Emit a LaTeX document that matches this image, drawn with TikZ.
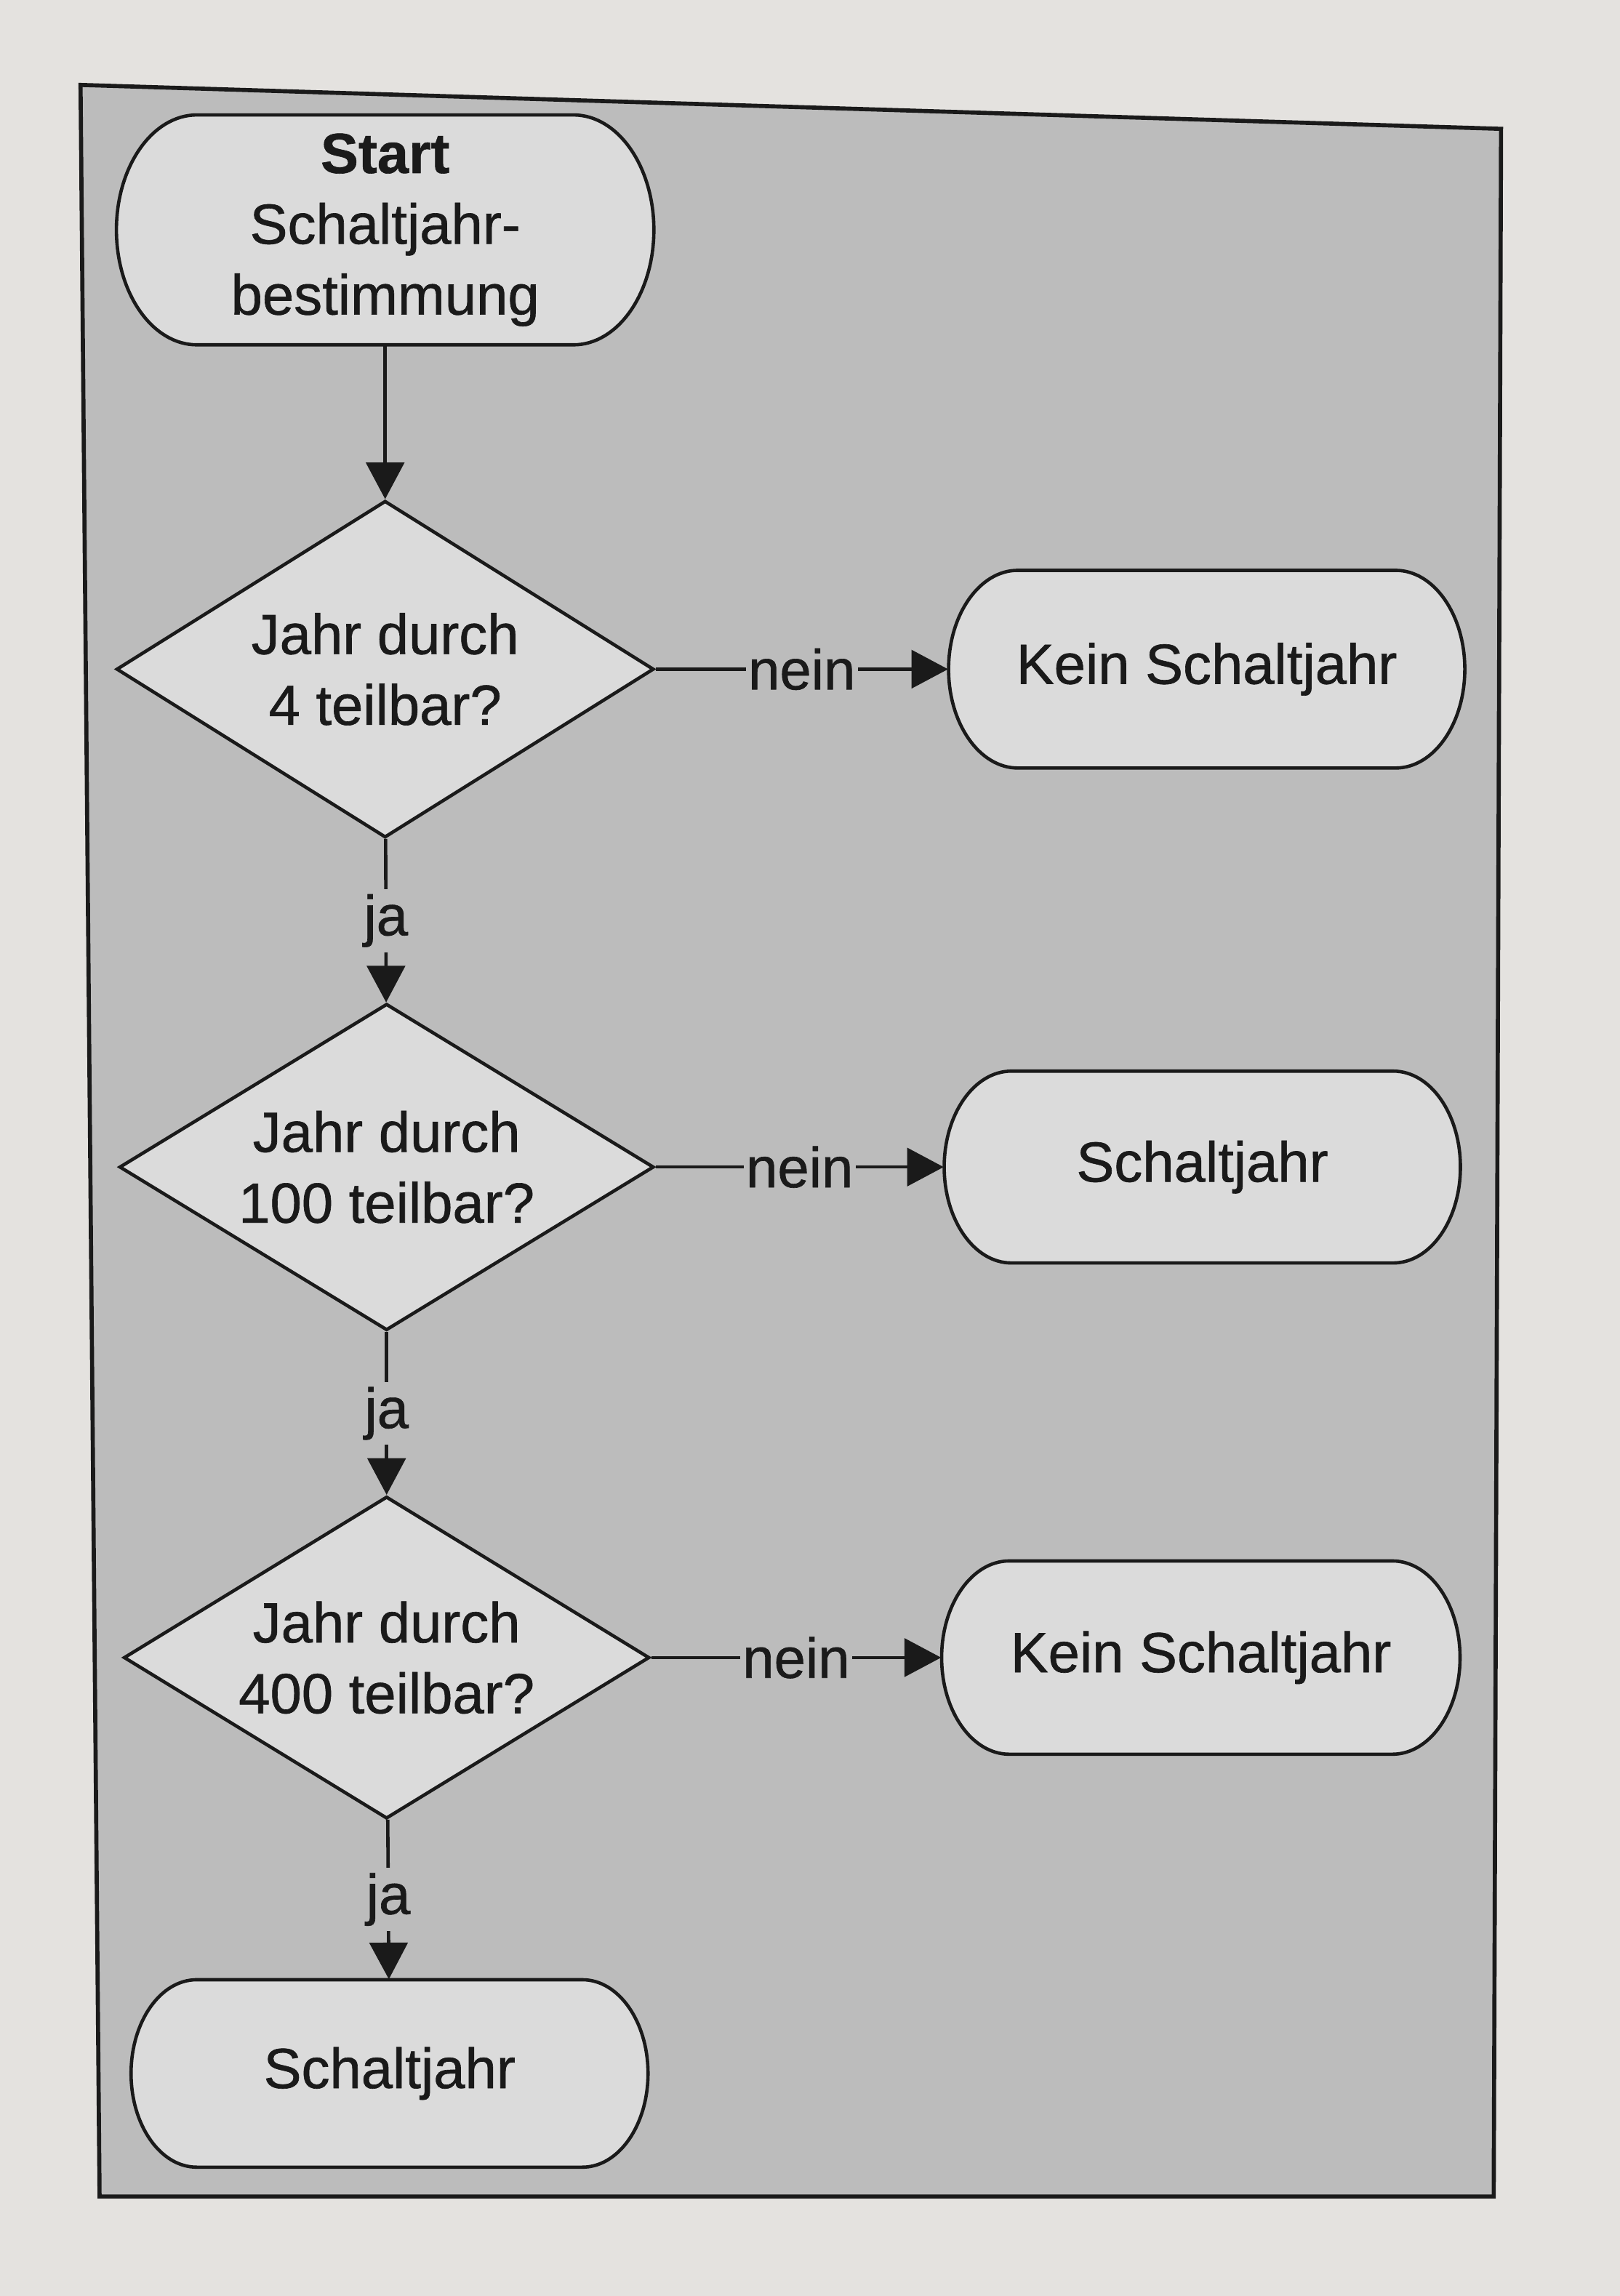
\documentclass[tikz,border=0pt]{standalone}
\usepackage{fontspec}
\setmainfont{Liberation Sans}[RawFeature={embolden=0.8}]
\usepackage{xcolor}
\usepackage{tikz}
\usetikzlibrary{positioning,arrows.meta,shapes.geometric}
\definecolor{PageTone}{HTML}{E4E2DF}
\definecolor{PanelGray}{HTML}{BCBCBC}
\definecolor{BoxGray}{HTML}{DBDBDB}
\definecolor{InkDark}{HTML}{1A1A1A}
% pill: name, x, y, width, height, text
\newcommand{\pillbox}[6]{%
  \path[draw=InkDark, fill=BoxGray, line width=1.3pt]
    ({#2-#4/2+0.35*#5},{#3+#5/2}) -- ({#2+#4/2-0.35*#5},{#3+#5/2})
    arc[start angle=90, end angle=-90, x radius={0.35*#5}, y radius={#5/2}]
    -- ({#2-#4/2+0.35*#5},{#3-#5/2})
    arc[start angle=270, end angle=90, x radius={0.35*#5}, y radius={#5/2}] -- cycle;
  \node[term, minimum width=#4cm, minimum height=#5cm] (#1) at (#2,#3) {#6};}

\begin{document}
\begin{tikzpicture}[every node/.style={font=\fontsize{22}{27.5}\selectfont, text=InkDark},
          ar/.style={-{Triangle[length=0.5cm,width=0.52cm]},line width=1.3pt,InkDark},
          term/.style={rectangle, inner sep=0pt, align=center},
          cond/.style={draw=InkDark, fill=BoxGray, line width=1.3pt, diamond, aspect=1.6,
            minimum width=7.3cm, minimum height=4.5cm, inner sep=0pt, align=center},
          lbl/.style={fill=PanelGray, inner xsep=1pt, inner ysep=2pt}]
        % page and grey panel
        \useasboundingbox (0,0) rectangle (22.12,-31.36);
        \fill[PageTone] (0,0) rectangle (22.12,-31.36);
        \draw[InkDark, fill=PanelGray, line width=1.6pt]
          (1.10,-1.16) -- (20.50,-1.76) -- (20.40,-30.00) -- (1.36,-30.00) -- cycle;
        % left column
        \pillbox{st}{5.26}{-3.14}{7.34}{3.14}{\textbf{Start}\\ Schaltjahr-\\ bestimmung}
        \node[cond, minimum width=7.34cm, minimum height=4.6cm] (q1) at (5.26,-9.14)
        {Jahr durch\\ 4 teilbar?};
        \node[cond, minimum height=4.46cm] (q2) at (5.28,-15.94)
        {Jahr durch\\ 100 teilbar?};
        \node[cond, minimum width=7.18cm, minimum height=4.4cm] (q3) at (5.28,-22.64)
        {Jahr durch\\ 400 teilbar?};
        \pillbox{sj}{5.32}{-28.32}{7.06}{2.56}{Schaltjahr}
        % right column
        \pillbox{n1}{16.48}{-9.14}{7.05}{2.7}{Kein Schaltjahr}
        \pillbox{n2}{16.42}{-15.94}{7.05}{2.62}{Schaltjahr}
        \pillbox{n3}{16.40}{-22.64}{7.08}{2.64}{Kein Schaltjahr}
        % connectors
        \draw[ar](st)--(q1);
        \draw[ar](q1)--node[lbl]{ja}(q2);
        \draw[ar](q2)--node[lbl]{ja}(q3);
        \draw[ar](q3)--node[lbl]{ja}(sj);
        \draw[ar](q1)--node[lbl]{nein}(n1);
        \draw[ar](q2)--node[lbl]{nein}(n2);
        \draw[ar](q3)--node[lbl]{nein}(n3);
      \end{tikzpicture}
\end{document}
